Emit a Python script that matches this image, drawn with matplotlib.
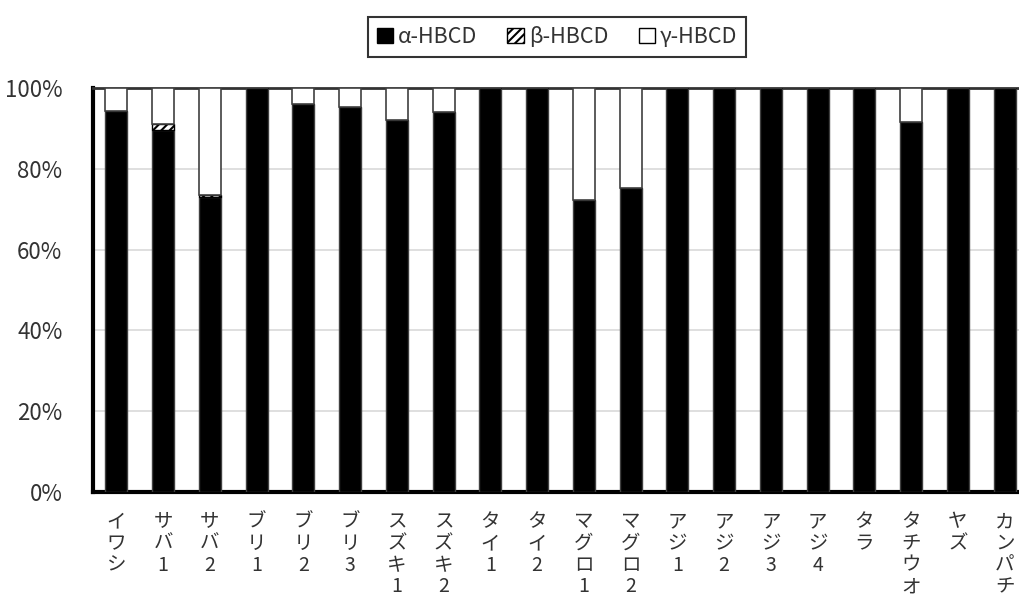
import matplotlib
matplotlib.use("Agg")
import matplotlib.pyplot as plt
from matplotlib.patches import Patch
from matplotlib.ticker import PercentFormatter
import numpy as np

plt.rcParams['font.family'] = ['Noto Sans CJK JP', 'DejaVu Sans']
plt.rcParams['hatch.linewidth'] = 1.5

categories = ["イワシ", "サバ1", "サバ2", "ブリ1", "ブリ2", "ブリ3", "スズキ1", "スズキ2",
              "タイ1", "タイ2", "マグロ1", "マグロ2", "アジ1", "アジ2", "アジ3", "アジ4",
              "タラ", "タチウオ", "ヤズ", "カンパチ"]
alpha_hbcd = [94.3, 89.6, 72.9, 100, 96.0, 95.2, 92.1, 94.1,
              100, 100, 72.4, 75.2, 100, 100, 100, 100,
              100, 91.5, 100, 100]
beta_hbcd = [0, 1.5, 0.5, 0, 0, 0, 0, 0,
             0, 0, 0, 0, 0, 0, 0, 0,
             0, 0, 0, 0]
gamma_hbcd = [100 - a - b for a, b in zip(alpha_hbcd, beta_hbcd)]
series_names = ["α-HBCD", "β-HBCD", "γ-HBCD"]

fig = plt.figure(figsize=(10.2, 5.98), dpi=100)
ax = fig.add_axes([93/1020, 1-492/598, 935/1020, (492-88)/598])

x = np.arange(len(categories))
w = 0.47
a = np.array(alpha_hbcd) / 100
b = np.array(beta_hbcd) / 100
g = np.array(gamma_hbcd) / 100

ax.bar(x, a, w, color='black', edgecolor='#404040', linewidth=1, zorder=3)
ax.bar(x, b, w, bottom=a, color='white', edgecolor='black', hatch='////', linewidth=1, zorder=3)
ax.bar(x, g, w, bottom=a + b, color='white', edgecolor='#404040', linewidth=1.2, zorder=3)

ax.set_xlim(-0.5, 19.5)
ax.set_ylim(0, 1.0)
ax.set_yticks(np.arange(0, 1.01, 0.2))
ax.yaxis.set_major_formatter(PercentFormatter(1.0, decimals=0))
ax.grid(axis='y', color='#d9d9d9', linewidth=1.2, zorder=0)
ax.set_axisbelow(True)

ax.set_xticks(x)
ax.set_xticklabels(["\n".join(list(c)) for c in categories], fontsize=14,
                   linespacing=1.04, va='top', color='#333333')
ax.tick_params(axis='x', length=0, pad=14)
ax.tick_params(axis='y', length=0, pad=22, labelsize=16, labelcolor='#333333')

for s in ['left', 'bottom']:
    ax.spines[s].set_linewidth(3)
    ax.spines[s].set_color('black')
ax.spines['top'].set_linewidth(2)
ax.spines['top'].set_color('#333333')
ax.spines['right'].set_visible(False)

handles = [Patch(facecolor='black', edgecolor='black'),
           Patch(facecolor='white', edgecolor='black', hatch='////'),
           Patch(facecolor='white', edgecolor='black')]
leg = fig.legend(handles, series_names, loc='center', bbox_to_anchor=(557/1020, 1-37/598),
                 ncol=3, frameon=True, fontsize=15.5, handlelength=0.75, handleheight=0.75,
                 handletextpad=0.25, columnspacing=1.4, borderpad=0.4, fancybox=False,
                 labelcolor='#333333')
leg.get_frame().set_edgecolor('black')
leg.get_frame().set_linewidth(1.5)

fig.savefig("out.png", dpi=100)
